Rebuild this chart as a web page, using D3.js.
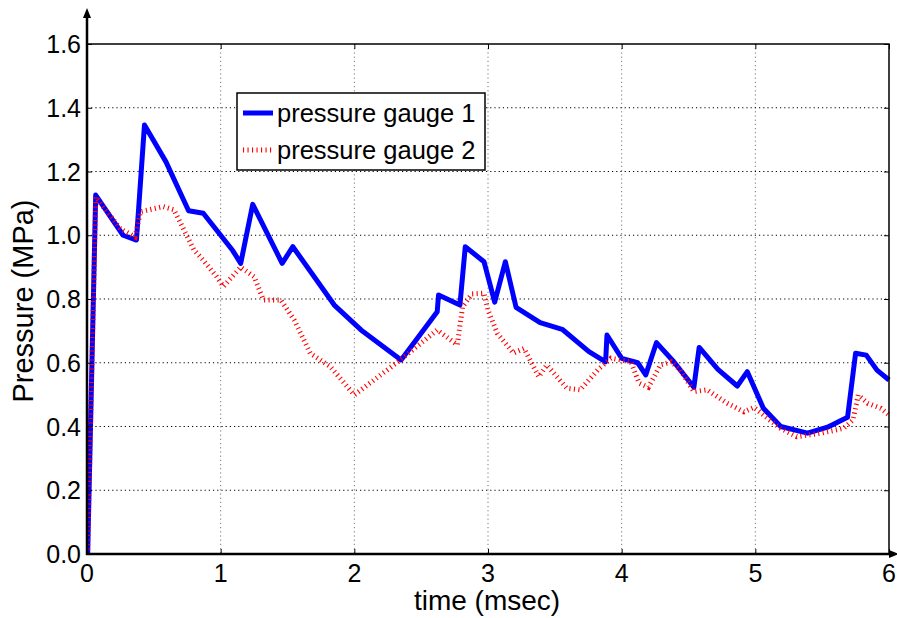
<!DOCTYPE html>
<html>
<head>
<meta charset="utf-8">
<script src="https://cdn.jsdelivr.net/npm/d3@7"></script>
<style>
    body { margin: 0; background: #fff; }
    text { font-family: "Liberation Sans", Arial, sans-serif; fill: #000; }
</style>
</head>
<body>
<div id="chart"></div>
<script>

// gauge 1 (solid blue)
let time1 = [0.005, 0.065, 0.27, 0.37, 0.43, 0.59, 0.76, 0.87, 1.09, 1.15, 1.24, 1.46, 1.54, 1.85, 2.05, 2.35,
    2.62, 2.63, 2.79, 2.83, 2.97, 3.05, 3.13, 3.21, 3.39, 3.555, 3.755, 3.88, 3.89, 4.0, 4.12, 4.18, 4.26,
    4.39, 4.54, 4.58, 4.72, 4.865, 4.94, 5.06, 5.19, 5.39, 5.54, 5.69, 5.75, 5.83, 5.91, 6.0];
let pressure1 = [0, 1.126, 1.0, 0.985, 1.346, 1.231, 1.077, 1.069, 0.952, 0.912, 1.097, 0.912, 0.964, 0.781, 0.703, 0.609,
    0.76, 0.8125, 0.781, 0.964, 0.917, 0.79, 0.917, 0.774, 0.726, 0.705, 0.635, 0.603, 0.687, 0.614, 0.600, 0.562, 0.663,
    0.603, 0.523, 0.648, 0.579, 0.527, 0.572, 0.457, 0.40, 0.379, 0.398, 0.429, 0.63, 0.624, 0.577, 0.546];

// gauge 2 (dotted red)
let time2 = [0.005, 0.065, 0.25, 0.36, 0.40, 0.57, 0.65, 0.80, 0.87, 0.97, 1.02, 1.15, 1.25, 1.32, 1.45, 1.55, 1.67,
    1.82, 2.0, 2.345, 2.62, 2.77, 2.81, 2.88, 2.97, 3.0, 3.07, 3.19, 3.27, 3.38, 3.44, 3.59, 3.69, 3.82, 3.92,
    4.07, 4.13, 4.20, 4.29, 4.37, 4.44, 4.54, 4.64, 4.79, 4.915, 4.99, 5.09, 5.19, 5.31, 5.49, 5.66, 5.73, 5.77,
    5.84, 5.94, 6.0];
let pressure2 = [0, 1.12, 1.02, 0.995, 1.074, 1.09, 1.08, 0.954, 0.922, 0.87, 0.839, 0.90, 0.87, 0.797, 0.797, 0.734, 0.63,
    0.588, 0.499, 0.609, 0.703, 0.656, 0.776, 0.816, 0.818, 0.765, 0.692, 0.63, 0.645, 0.556, 0.593, 0.52, 0.515, 0.577, 0.614,
    0.603, 0.536, 0.523, 0.593, 0.603, 0.577, 0.509, 0.515, 0.473, 0.446, 0.46, 0.426, 0.394, 0.368, 0.379, 0.394, 0.42, 0.499,
    0.473, 0.457, 0.436];

let xTicks = [0, 1, 2, 3, 4, 5, 6];
let yTicks = [0, 0.2, 0.4, 0.6, 0.8, 1.0, 1.2, 1.4, 1.6];
let seriesNames = ["pressure gauge 1", "pressure gauge 2"];

let margin = {top: 44, right: 8, bottom: 64, left: 87};
let W = 897, H = 618;
let width = W - margin.left - margin.right;
let height = H - margin.top - margin.bottom;

let svg = d3.select("#chart").append("svg")
    .attr("width", W)
    .attr("height", H);

let g = svg.append("g")
    .attr("transform", `translate(${margin.left}, ${margin.top})`);

let x = d3.scaleLinear().domain([0, 6]).range([0, width]);
let y = d3.scaleLinear().domain([0, 1.6]).range([height, 0]);

// grid
g.append("g").selectAll("line").data(xTicks.slice(1, -1)).enter().append("line")
    .attr("x1", d => x(d)).attr("x2", d => x(d))
    .attr("y1", 0).attr("y2", height)
    .attr("stroke", "#777").attr("stroke-width", 1)
    .attr("stroke-dasharray", "1.2,3");

g.append("g").selectAll("line").data(yTicks.slice(1, -1)).enter().append("line")
    .attr("x1", 0).attr("x2", width)
    .attr("y1", d => y(d)).attr("y2", d => y(d))
    .attr("stroke", "#000").attr("stroke-width", 1)
    .attr("stroke-dasharray", "1.2,3");

// lines
let clip = svg.append("clipPath").attr("id", "clip")
    .append("rect").attr("x", 0).attr("y", -2).attr("width", width + 2).attr("height", height + 2);

let line = d3.line().x(d => x(d[0])).y(d => y(d[1]));
let data1 = time1.map((t, i) => [t, pressure1[i]]);
let data2 = time2.map((t, i) => [t, pressure2[i]]);

let lineG = g.append("g").attr("clip-path", "url(#clip)");

lineG.append("path").datum(data1)
    .attr("d", line)
    .attr("fill", "none")
    .attr("stroke", "#0000ff")
    .attr("stroke-width", 5)
    .attr("stroke-linejoin", "round");

lineG.append("path").datum(data2)
    .attr("d", line)
    .attr("fill", "none")
    .attr("stroke", "#ff0000")
    .attr("stroke-width", 5)
    .attr("stroke-dasharray", "1.1,3.4");

// axes (ticks inward, labels set separately)
g.append("g")
    .attr("transform", `translate(0, ${height})`)
    .call(d3.axisTop(x).tickValues(xTicks).tickSize(5).tickFormat(""))
    .call(a => a.select(".domain").remove());
g.append("g")
    .call(d3.axisBottom(x).tickValues(xTicks).tickSize(5).tickFormat(""))
    .call(a => a.select(".domain").remove());
g.append("g")
    .call(d3.axisRight(y).tickValues(yTicks).tickSize(5).tickFormat(""))
    .call(a => a.select(".domain").remove());
g.append("g")
    .attr("transform", `translate(${width}, 0)`)
    .call(d3.axisLeft(y).tickValues(yTicks).tickSize(5).tickFormat(""))
    .call(a => a.select(".domain").remove());
g.selectAll(".tick line").attr("stroke", "#000").attr("stroke-width", 1);

// box: top & right thin, left & bottom heavy with arrows
g.append("path")
    .attr("d", `M0,0H${width}V${height}`)
    .attr("fill", "none").attr("stroke", "#000").attr("stroke-width", 1.5);

g.append("line").attr("x1", 0).attr("x2", 0).attr("y1", height + 1).attr("y2", -30)
    .attr("stroke", "#000").attr("stroke-width", 2.5);
g.append("line").attr("x1", -1).attr("x2", width + 4).attr("y1", height).attr("y2", height)
    .attr("stroke", "#000").attr("stroke-width", 2.5);
g.append("path").attr("d", "M0,-36L-4,-26L4,-26Z").attr("fill", "#000");
g.append("path").attr("d", `M${width + 10},${height}L${width},${height - 4}L${width},${height + 4}Z`).attr("fill", "#000");

// tick labels
g.append("g").selectAll("text").data(xTicks).enter().append("text")
    .attr("x", d => x(d))
    .attr("y", height + 28)
    .attr("text-anchor", "middle")
    .style("font-size", "25px")
    .text(d => d);

g.append("g").selectAll("text").data(yTicks).enter().append("text")
    .attr("x", -6)
    .attr("y", d => y(d) + 9)
    .attr("text-anchor", "end")
    .style("font-size", "25px")
    .text(d => d3.format(".1f")(d));

// axis titles
svg.append("text")
    .attr("x", 487)
    .attr("y", 610)
    .attr("text-anchor", "middle")
    .style("font-size", "28px")
    .text("time (msec)");

svg.append("text")
    .attr("transform", "translate(33, 301) rotate(-90)")
    .attr("text-anchor", "middle")
    .style("font-size", "29px")
    .text("Pressure (MPa)");

// legend
let legend = svg.append("g").attr("class", "legend");
legend.append("rect")
    .attr("x", 237).attr("y", 93).attr("width", 248).attr("height", 77)
    .attr("fill", "#fff").attr("stroke", "#000").attr("stroke-width", 1.5);

let legendStyles = [
    {color: "#0000ff", dash: null},
    {color: "#ff0000", dash: "1.1,3.4"}
];
seriesNames.forEach((name, i) => {
    let ly = 113 + i * 37;
    legend.append("line")
        .attr("x1", 243).attr("x2", 273).attr("y1", ly).attr("y2", ly)
        .attr("stroke", legendStyles[i].color)
        .attr("stroke-width", 5)
        .attr("stroke-dasharray", legendStyles[i].dash);
    legend.append("text")
        .attr("x", 277).attr("y", ly + 9)
        .style("font-size", "25.5px")
        .text(name);
});

</script>
</body>
</html>
